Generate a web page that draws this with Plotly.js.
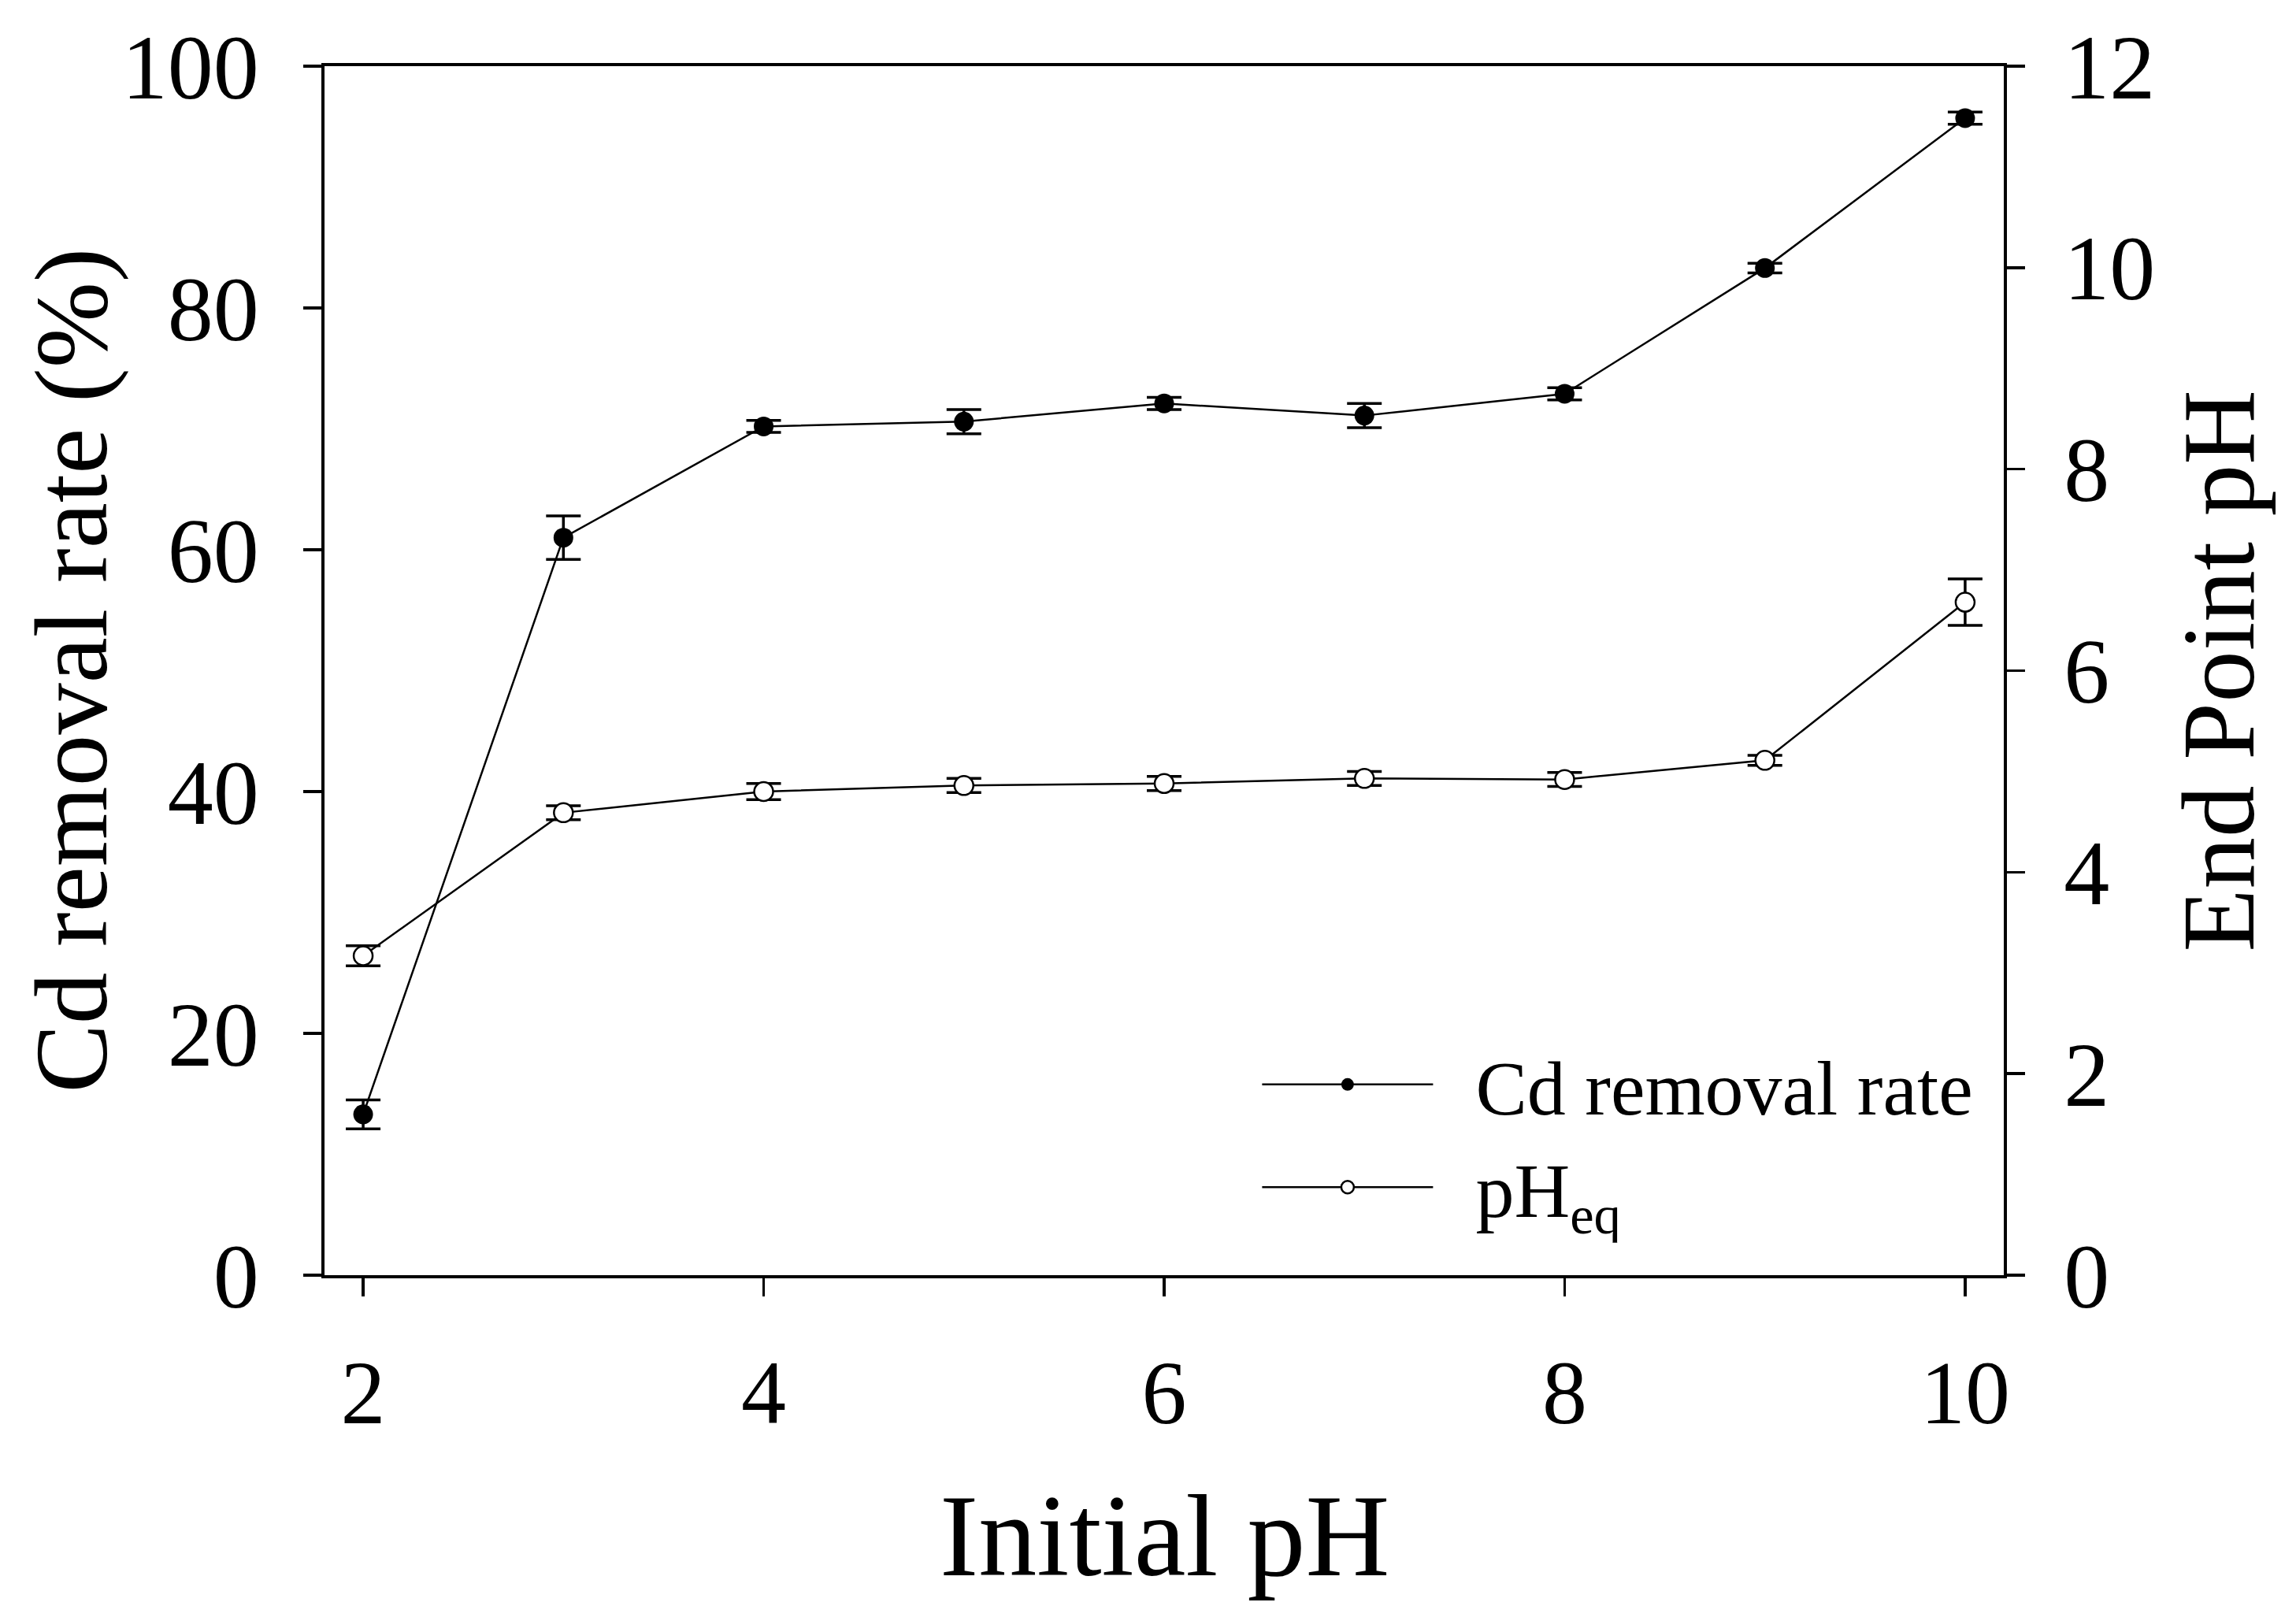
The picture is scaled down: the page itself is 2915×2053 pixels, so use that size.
<!DOCTYPE html>
<html>
<head>
<meta charset="utf-8">
<script src="https://cdn.plot.ly/plotly-3.0.1.min.js"></script>
<style>
  html, body { margin: 0; padding: 0; background: #fff; }
  #myDiv { width: 2915px; height: 2053px; }
</style>
</head>
<body>
<div id="myDiv"></div>
<script>
// initial pH of each batch
var initialPH = [2, 3, 4, 5, 6, 7, 8, 9, 10];

// Cd removal rate (%) and its error
var cdRemoval = [13.3, 61.0, 70.2, 70.6, 72.1, 71.1, 72.9, 83.3, 95.7];
var cdErr = [1.2, 1.8, 0.5, 1.0, 0.5, 1.0, 0.5, 0.4, 0.5];

// end point pH and its error
var phEq = [3.17, 4.59, 4.80, 4.86, 4.88, 4.93, 4.92, 5.11, 6.68];
var phErr = [0.1, 0.07, 0.08, 0.07, 0.07, 0.07, 0.07, 0.05, 0.23];

var xTicks = [2, 4, 6, 8, 10];
var yTicks = [0, 20, 40, 60, 80, 100];
var y2Ticks = [0, 2, 4, 6, 8, 10, 12];

var serif = 'Liberation Serif, Times New Roman, serif';
var gap = '\u00a0\u00a0'; // a bit of room between legend symbol and text

var removal = {
  x: initialPH,
  y: cdRemoval,
  name: gap + 'Cd removal rate',
  mode: 'lines+markers',
  line: { color: '#000', width: 2.5 },
  marker: { symbol: 'circle', size: 25, color: '#000' },
  error_y: { type: 'data', array: cdErr, visible: true, color: '#000', thickness: 3.5, width: 22 }
};

var endPH = {
  x: initialPH,
  y: phEq,
  yaxis: 'y2',
  name: gap + 'pH<sub>eq</sub>',
  mode: 'lines+markers',
  line: { color: '#000', width: 2.5 },
  marker: { symbol: 'circle', size: 24, color: '#fff', line: { color: '#000', width: 2.5 } },
  error_y: { type: 'data', array: phErr, visible: true, color: '#000', thickness: 3.5, width: 22 }
};

var data = [removal, endPH];

var layout = {
  width: 2915,
  height: 2053,
  paper_bgcolor: '#fff',
  plot_bgcolor: '#fff',
  margin: { l: 412, r: 371, t: 84, b: 434, pad: 0 },
  font: { family: serif, color: '#000', size: 112 },
  showlegend: true,
  legend: {
    x: 0.556,
    y: 0.2035,
    xanchor: 'left',
    yanchor: 'top',
    bgcolor: 'rgba(0,0,0,0)',
    font: { family: serif, size: 98, color: '#000' },
    itemwidth: 217,
    tracegroupgap: 0
  },
  xaxis: {
    range: [1.807, 10.193],
    tickvals: xTicks,
    ticks: 'outside',
    ticklen: 23,
    tickwidth: 3.5,
    tickcolor: '#000',
    ticklabelstandoff: 24,
    showline: true,
    linewidth: 4,
    linecolor: '#000',
    mirror: true,
    showgrid: false,
    zeroline: false,
    tickfont: { family: serif, size: 114, color: '#000' }
  },
  yaxis: {
    range: [0, 100],
    tickvals: yTicks,
    ticks: 'outside',
    ticklen: 23,
    tickwidth: 3.5,
    tickcolor: '#000',
    ticklabelstandoff: 33,
    showline: true,
    linewidth: 4,
    linecolor: '#000',
    showgrid: false,
    zeroline: false,
    tickfont: { family: serif, size: 116, color: '#000' }
  },
  yaxis2: {
    range: [0, 12],
    tickvals: y2Ticks,
    overlaying: 'y',
    side: 'right',
    ticks: 'outside',
    ticklen: 23,
    tickwidth: 3.5,
    tickcolor: '#000',
    ticklabelstandoff: 26,
    showline: true,
    linewidth: 4,
    linecolor: '#000',
    showgrid: false,
    zeroline: false,
    tickfont: { family: serif, size: 116, color: '#000' }
  },
  annotations: [
    {
      text: 'Cd removal rate (%)',
      xref: 'paper', yref: 'paper',
      x: -0.151, y: 0.5,
      xanchor: 'center', yanchor: 'middle',
      textangle: -90,
      showarrow: false,
      font: { family: serif, size: 131, color: '#000' }
    },
    {
      text: 'End Point pH',
      xref: 'paper', yref: 'paper',
      x: 1.128, y: 0.5,
      xanchor: 'center', yanchor: 'middle',
      textangle: -90,
      showarrow: false,
      font: { family: serif, size: 131, color: '#000' }
    },
    {
      text: 'Initial pH',
      xref: 'paper', yref: 'paper',
      x: 0.5, y: -0.2156,
      xanchor: 'center', yanchor: 'middle',
      showarrow: false,
      font: { family: serif, size: 148, color: '#000' }
    }
  ]
};

Plotly.newPlot('myDiv', data, layout, { staticPlot: true, displayModeBar: false });
</script>
</body>
</html>
